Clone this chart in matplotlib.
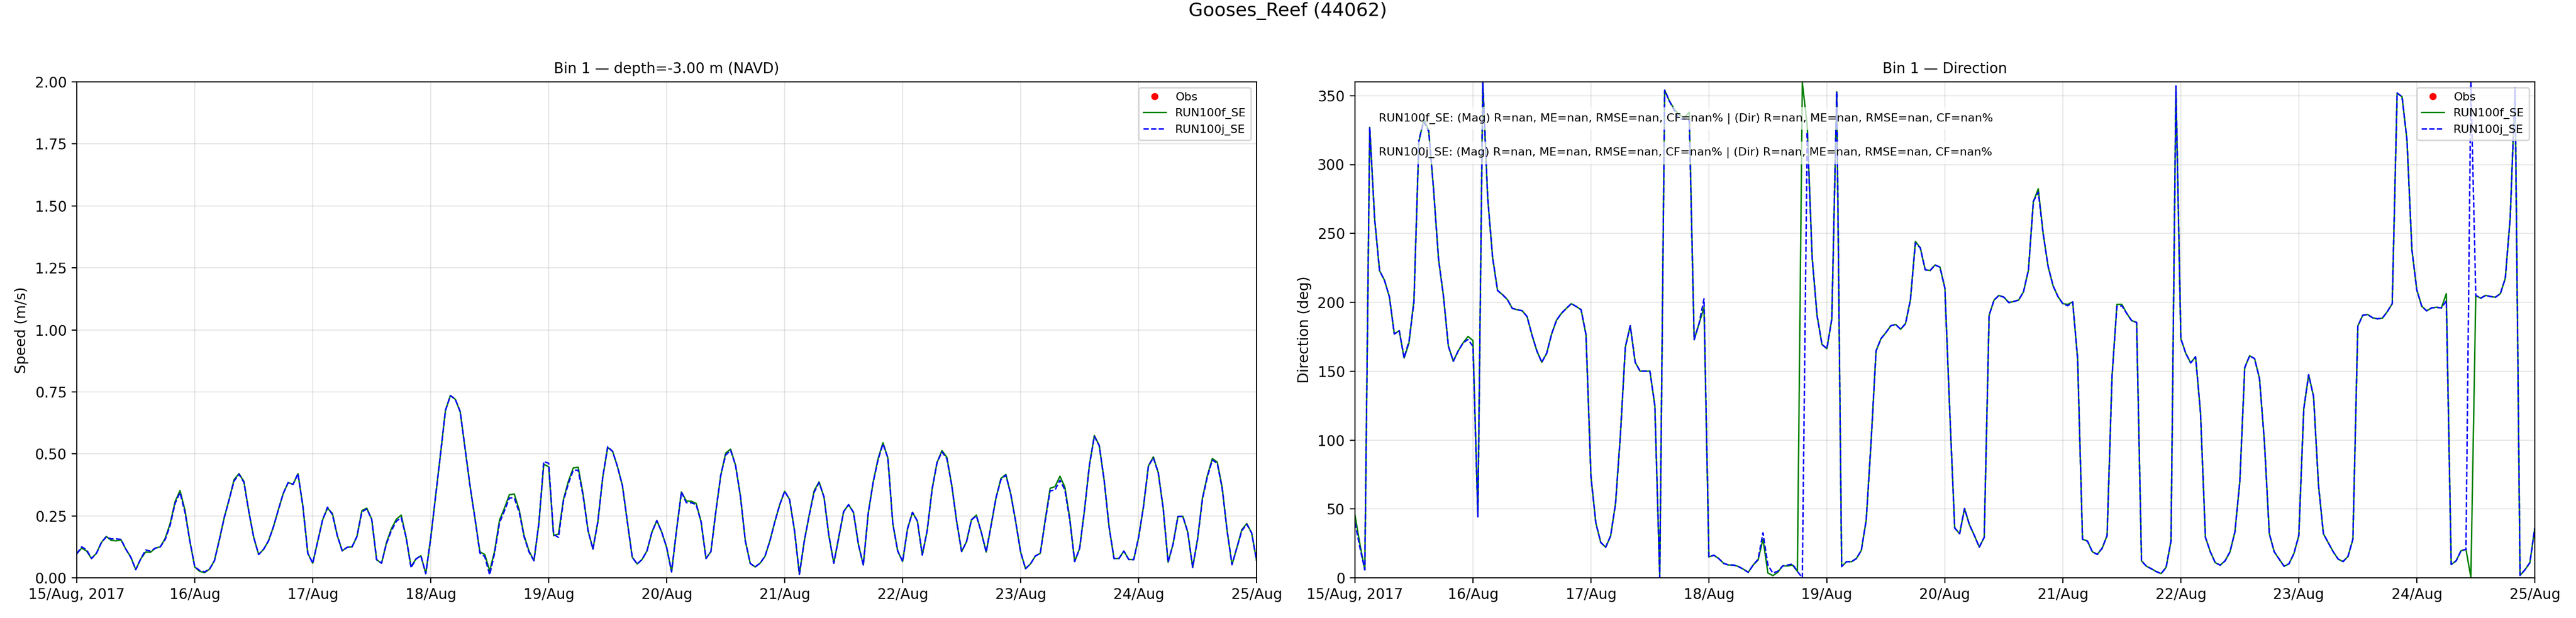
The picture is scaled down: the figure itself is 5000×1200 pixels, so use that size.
#Gooses_Reef ADCP bin 1: speed and direction, model runs vs obs

import numpy as np
import pandas as pd
import matplotlib
matplotlib.use('Agg')
import matplotlib.pyplot as plt
import matplotlib.dates as mdates
from matplotlib.ticker import FuncFormatter

station = 'Gooses_Reef (44062)'
runs = ['RUN100f_SE', 'RUN100j_SE']

# hourly model output, 15 Aug 00:00 -> 25 Aug 00:00
times = pd.date_range('2017-08-15 00:00', '2017-08-25 00:00', freq='h')

speed_f = [0.097, 0.12, 0.108, 0.078, 0.099, 0.142, 0.167, 0.151, 0.149, 0.153, 0.115, 0.083,
           0.033, 0.076, 0.104, 0.103, 0.12, 0.125, 0.16, 0.219, 0.307, 0.352, 0.274, 0.149,
           0.044, 0.026, 0.021, 0.035, 0.069, 0.153, 0.243, 0.316, 0.396, 0.42, 0.389, 0.267,
           0.163, 0.094, 0.115, 0.149, 0.205, 0.274, 0.34, 0.384, 0.377, 0.42, 0.288, 0.099,
           0.059, 0.146, 0.233, 0.281, 0.26, 0.17, 0.109, 0.123, 0.125, 0.167, 0.271, 0.281,
           0.236, 0.073, 0.059, 0.142, 0.198, 0.236, 0.253, 0.163, 0.045, 0.076, 0.089, 0.017,
           0.16, 0.33, 0.5, 0.675, 0.735, 0.72, 0.67, 0.52, 0.37, 0.24, 0.105, 0.094,
           0.028, 0.108, 0.233, 0.281, 0.335, 0.338, 0.274, 0.17, 0.108, 0.069, 0.219, 0.458,
           0.448, 0.17, 0.177, 0.316, 0.389, 0.443, 0.446, 0.337, 0.191, 0.116, 0.226, 0.406,
           0.526, 0.51, 0.448, 0.372, 0.226, 0.083, 0.056, 0.074, 0.109, 0.184, 0.231, 0.184,
           0.122, 0.024, 0.191, 0.346, 0.31, 0.309, 0.3, 0.226, 0.078, 0.106, 0.267, 0.413,
           0.503, 0.519, 0.455, 0.33, 0.149, 0.058, 0.044, 0.059, 0.087, 0.149, 0.226, 0.295,
           0.349, 0.316, 0.191, 0.014, 0.149, 0.253, 0.351, 0.387, 0.326, 0.17, 0.059, 0.163,
           0.267, 0.295, 0.264, 0.135, 0.052, 0.26, 0.385, 0.48, 0.545, 0.483, 0.219, 0.108,
           0.066, 0.198, 0.264, 0.229, 0.092, 0.191, 0.358, 0.465, 0.513, 0.486, 0.372, 0.226,
           0.106, 0.146, 0.234, 0.253, 0.184, 0.104, 0.212, 0.323, 0.401, 0.417, 0.337, 0.226,
           0.104, 0.037, 0.056, 0.088, 0.099, 0.233, 0.361, 0.368, 0.41, 0.366, 0.24, 0.066,
           0.118, 0.274, 0.455, 0.574, 0.533, 0.392, 0.205, 0.078, 0.078, 0.108, 0.074, 0.073,
           0.163, 0.288, 0.451, 0.488, 0.424, 0.281, 0.063, 0.135, 0.247, 0.248, 0.184, 0.042,
           0.156, 0.323, 0.413, 0.481, 0.467, 0.365, 0.191, 0.053, 0.122, 0.194, 0.219, 0.181,
           0.07]

speed_j = [0.097, 0.125, 0.113, 0.078, 0.099, 0.142, 0.165, 0.157, 0.157, 0.155, 0.115, 0.083,
           0.033, 0.076, 0.112, 0.108, 0.12, 0.125, 0.155, 0.212, 0.3, 0.344, 0.265, 0.149,
           0.044, 0.03, 0.024, 0.035, 0.069, 0.153, 0.243, 0.316, 0.39, 0.418, 0.385, 0.267,
           0.163, 0.094, 0.115, 0.149, 0.205, 0.274, 0.34, 0.384, 0.377, 0.42, 0.288, 0.099,
           0.059, 0.146, 0.233, 0.285, 0.255, 0.17, 0.109, 0.123, 0.125, 0.167, 0.266, 0.278,
           0.236, 0.073, 0.059, 0.138, 0.19, 0.228, 0.243, 0.163, 0.04, 0.076, 0.089, 0.017,
           0.16, 0.33, 0.5, 0.675, 0.735, 0.72, 0.67, 0.52, 0.37, 0.24, 0.1, 0.085,
           0.012, 0.1, 0.222, 0.27, 0.322, 0.322, 0.265, 0.165, 0.104, 0.069, 0.219, 0.469,
           0.462, 0.175, 0.163, 0.31, 0.38, 0.434, 0.434, 0.33, 0.191, 0.116, 0.226, 0.406,
           0.529, 0.51, 0.448, 0.372, 0.226, 0.083, 0.056, 0.074, 0.109, 0.184, 0.231, 0.184,
           0.122, 0.024, 0.191, 0.346, 0.303, 0.303, 0.295, 0.226, 0.078, 0.106, 0.267, 0.413,
           0.495, 0.514, 0.455, 0.33, 0.149, 0.058, 0.044, 0.059, 0.087, 0.149, 0.226, 0.295,
           0.349, 0.316, 0.191, 0.014, 0.149, 0.253, 0.345, 0.384, 0.326, 0.17, 0.059, 0.163,
           0.267, 0.295, 0.264, 0.135, 0.052, 0.26, 0.385, 0.476, 0.54, 0.483, 0.219, 0.108,
           0.066, 0.198, 0.264, 0.229, 0.092, 0.191, 0.358, 0.465, 0.508, 0.48, 0.372, 0.226,
           0.106, 0.146, 0.234, 0.25, 0.184, 0.104, 0.212, 0.323, 0.396, 0.414, 0.337, 0.226,
           0.104, 0.037, 0.056, 0.088, 0.099, 0.228, 0.351, 0.354, 0.394, 0.355, 0.232, 0.066,
           0.118, 0.274, 0.455, 0.57, 0.533, 0.392, 0.205, 0.078, 0.078, 0.108, 0.074, 0.073,
           0.163, 0.288, 0.451, 0.484, 0.424, 0.281, 0.063, 0.135, 0.247, 0.248, 0.184, 0.042,
           0.156, 0.318, 0.408, 0.475, 0.462, 0.36, 0.191, 0.053, 0.122, 0.19, 0.216, 0.181,
           0.07]

dir_f = [45.6, 24.5, 5.8, 327, 260.5, 223, 216, 204, 177, 179.4, 159.6, 170.6,
         202, 316.6, 333, 324.8, 281.5, 231.3, 204.4, 168.2, 157.2, 164.7, 170.6, 175.2,
         172.2, 44.4, 359.8, 275.7, 232.5, 208.6, 205.6, 202, 195.6, 194.6, 193.9, 189.7,
         176.4, 164.7, 156.5, 163, 177, 187, 192, 195.6, 199, 197, 194.6, 176.4,
         73.6, 39.7, 25.7, 22.2, 30.4, 53.7, 104, 167.5, 183, 156.5, 150, 150,
         150, 125, 0.5, 354, 345.8, 340, 336, 334, 338, 172.9, 184.6, 196.3,
         15.2, 16.4, 14, 10.5, 9.3, 9.3, 8.2, 6.3, 4, 9.3, 12.9, 28,
         3.5, 1.6, 4, 8.6, 8.6, 9.3, 4.7, 359.5, 328, 232.5, 190.4, 169.4,
         166.4, 188, 352.8, 8.2, 11.7, 11.7, 14, 19.9, 42, 99.3, 164.7, 173.6,
         178, 183, 183.9, 180.4, 184.6, 202, 244.2, 239.5, 223.6, 223.1, 227.1, 225.5,
         210.3, 120, 36.2, 32, 50.3, 38.5, 30.7, 22.3, 29.4, 190.6, 201.6, 205,
         203.7, 199.8, 200.6, 201.6, 207.7, 223.4, 273.2, 282.4, 249.6, 226, 212.1, 204.2,
         199, 198.5, 200.3, 159.1, 28, 26.7, 18.9, 17, 21.5, 30.7, 146, 198.5,
         198.5, 191.9, 186.7, 185.4, 12.3, 8.4, 6.6, 4.5, 3.1, 7.6, 26.7, 357,
         173.6, 163, 156, 160.5, 119.8, 29.4, 18.9, 11, 9.2, 12.3, 18.9, 33.3,
         70, 152.6, 161.2, 159.1, 144.7, 98.8, 32, 18.9, 13.6, 8.4, 10.2, 17.6,
         30.7, 122.4, 147.4, 131.6, 67.4, 32, 25.4, 18.9, 13.6, 11.8, 15.5, 28,
         182.7, 190.6, 191.1, 188.8, 188, 188.5, 193.2, 199, 351.9, 349.2, 317.8, 238.3,
         209, 197.2, 193.8, 195.9, 196.4, 195.9, 206.3, 9.7, 12.3, 19.7, 20.7, 0.3,
         205, 203, 205, 204.2, 203.7, 206.3, 217.4, 261.4, 355.8, 1.8, 5.8, 11,
         36]

dir_j = [40, 22, 5.8, 327, 260.5, 223, 216, 204, 177, 179.4, 159.6, 172,
         200, 318, 331, 324, 281.5, 231.3, 204.4, 168.2, 157.2, 164.7, 170.6, 173,
         168, 44.4, 360, 275.7, 232.5, 208.6, 205.6, 202, 195.6, 194.6, 193.9, 189.7,
         176.4, 164.7, 156.5, 163, 177, 187, 192, 195.6, 199, 197, 194.6, 176.4,
         73.6, 39.7, 25.7, 22.2, 30.4, 53.7, 104, 167.5, 183, 156.5, 150, 150,
         150, 125, 0.5, 354, 345.8, 339, 333, 333, 332, 172.9, 184.6, 202.6,
         15.2, 16.4, 14, 10.5, 9.3, 9.3, 8.2, 6.3, 4, 9.3, 13.5, 32.7,
         9.3, 3.5, 4.7, 8.6, 9.3, 10, 4.7, 0, 323.6, 232.5, 190.4, 169.4,
         166.4, 188, 352.8, 8.2, 11.7, 11.7, 14, 19.9, 42, 99.3, 164.7, 173.6,
         178, 183, 183.9, 180.4, 184.6, 202, 243, 239.5, 223.6, 223.1, 227.1, 225.5,
         210.3, 120, 36.2, 32, 50.3, 38.5, 30.7, 22.3, 29.4, 190.6, 201.6, 205,
         203.7, 199.8, 200.6, 201.6, 207.7, 223.4, 273.2, 280, 249.6, 226, 212.1, 204.2,
         199, 197.5, 200.3, 159.1, 28, 26.7, 18.9, 17, 21.5, 30.7, 146, 197,
         197.5, 191.9, 186.7, 185.4, 12.3, 8.4, 6.6, 4.5, 3.1, 7.6, 26.7, 357,
         173.6, 163, 156, 160.5, 119.8, 29.4, 18.9, 11, 9.2, 12.3, 18.9, 33.3,
         70, 152.6, 161.2, 159.1, 144.7, 98.8, 32, 18.9, 13.6, 8.4, 10.2, 17.6,
         30.7, 122.4, 147.4, 131.6, 67.4, 32, 25.4, 18.9, 13.6, 11.8, 15.5, 28,
         182.7, 190.6, 191.1, 188.8, 188, 188.5, 193.2, 199, 351.9, 349.2, 317.8, 238.3,
         209, 197.2, 193.8, 195.9, 196.4, 195.9, 201, 9.7, 12.3, 19.7, 20.7, 360,
         205, 203, 205, 204.2, 203.7, 206.3, 217.4, 261.4, 355.8, 1.8, 5.8, 11,
         36]

# no observations in this window
obs_times = []
obs_speed = []
obs_dir = []

# skill scores (all nan without obs): mag R, ME, RMSE, CF | dir R, ME, RMSE, CF
stats = {'RUN100f_SE': [np.nan] * 8, 'RUN100j_SE': [np.nan] * 8}


def date_fmt(x, pos):
    d = mdates.num2date(x)
    if pos == 0:
        return d.strftime('%d/%b, %Y')
    return d.strftime('%d/%b')


fig, (ax1, ax2) = plt.subplots(1, 2, figsize=(25, 6), dpi=200)
fig.subplots_adjust(left=0.0298, right=0.984, bottom=0.065, top=0.8675, wspace=0.0834)
fig.suptitle(station, fontsize=13, y=0.997)

# speed
ax1.plot(obs_times, obs_speed, 'r.', markersize=8, label='Obs')
ax1.plot(times, speed_f, 'g-', lw=1.0, label=runs[0])
ax1.plot(times, speed_j, 'b--', lw=1.0, label=runs[1])
ax1.set_ylim(0, 2)
ax1.set_yticks(np.arange(0, 2.01, 0.25))
ax1.yaxis.set_major_formatter(FuncFormatter(lambda v, p: '%.2f' % v))
ax1.set_ylabel('Speed (m/s)')
ax1.set_title('Bin 1 \u2014 depth=-3.00 m (NAVD)', fontsize=10)
ax1.legend(loc='upper right', fontsize=8)

# direction
ax2.plot(obs_times, obs_dir, 'r.', markersize=8, label='Obs')
ax2.plot(times, dir_f, 'g-', lw=1.0, label=runs[0])
ax2.plot(times, dir_j, 'b--', lw=1.0, label=runs[1])
ax2.set_ylim(0, 360)
ax2.set_yticks(np.arange(0, 351, 50))
ax2.set_ylabel('Direction (deg)')
ax2.set_title('Bin 1 \u2014 Direction', fontsize=10)
ax2.legend(loc='upper right', fontsize=8)

ypos = [0.926, 0.857]
for i, run in enumerate(runs):
    s = stats[run]
    txt = ('%s: (Mag) R=%.2f, ME=%.2f, RMSE=%.2f, CF=%.1f%% | (Dir) R=%.2f, ME=%.2f, RMSE=%.2f, CF=%.1f%%'
           % (run, *s))
    ax2.text(0.02, ypos[i], txt, transform=ax2.transAxes, fontsize=8, va='center',
             bbox=dict(facecolor='white', alpha=0.7, edgecolor='none'))

for ax in (ax1, ax2):
    ax.set_xlim(times[0], times[-1])
    ax.xaxis.set_major_locator(mdates.DayLocator())
    ax.xaxis.set_major_formatter(FuncFormatter(date_fmt))
    ax.grid(True, alpha=0.3)

plt.savefig('out.png', dpi=200)
